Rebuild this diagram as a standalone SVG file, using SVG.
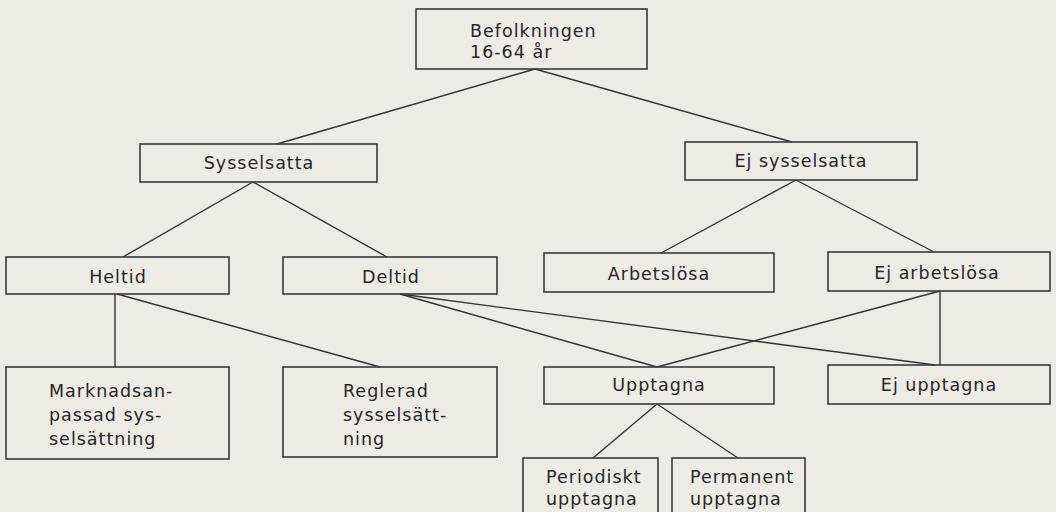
<svg xmlns="http://www.w3.org/2000/svg" width="1056" height="512" viewBox="0 0 1056 512">
<style>
.bg{fill:#ecece5}
.box{fill:none;stroke:#3a3a3a;stroke-width:1.6}
.ln{stroke:#333;stroke-width:1.4;fill:none}
text{font-family:"DejaVu Sans","Liberation Sans",sans-serif;font-size:17.5px;fill:#262626;letter-spacing:1px}
.c{text-anchor:middle}
</style>
<rect class="bg" x="0" y="0" width="1056" height="512"/>
<g id="connectors">
<line class="ln" x1="535" y1="69" x2="277" y2="144"/>
<line class="ln" x1="535" y1="69" x2="792" y2="142"/>
<line class="ln" x1="253" y1="182" x2="123" y2="257"/>
<line class="ln" x1="253" y1="182" x2="387" y2="257"/>
<line class="ln" x1="796" y1="180" x2="661" y2="253"/>
<line class="ln" x1="796" y1="180" x2="934" y2="252"/>
<line class="ln" x1="115" y1="294" x2="115" y2="367"/>
<line class="ln" x1="117" y1="294" x2="380" y2="367"/>
<line class="ln" x1="400" y1="294" x2="657" y2="367"/>
<line class="ln" x1="400" y1="294" x2="935" y2="365"/>
<line class="ln" x1="940" y1="291" x2="657" y2="367"/>
<line class="ln" x1="940" y1="291" x2="940" y2="365"/>
<line class="ln" x1="657" y1="404" x2="593" y2="458"/>
<line class="ln" x1="657" y1="404" x2="738" y2="458"/>
</g>
<g id="befolkningen">
<rect class="box" x="416" y="9" width="231" height="60"/>
<text x="470" y="37">Befolkningen</text>
<text x="470" y="58">16-64 år</text>
</g>
<g id="sysselsatta">
<rect class="box" x="140" y="144" width="237" height="38"/>
<text class="c" x="259" y="169">Sysselsatta</text>
</g>
<g id="ej-sysselsatta">
<rect class="box" x="685" y="142" width="232" height="38"/>
<text class="c" x="801" y="167">Ej sysselsatta</text>
</g>
<g id="heltid">
<rect class="box" x="6" y="257" width="223" height="37"/>
<text class="c" x="118" y="283">Heltid</text>
</g>
<g id="deltid">
<rect class="box" x="283" y="257" width="214" height="37"/>
<text class="c" x="391" y="283">Deltid</text>
</g>
<g id="arbetslosa">
<rect class="box" x="544" y="253" width="230" height="39"/>
<text class="c" x="659" y="280">Arbetslösa</text>
</g>
<g id="ej-arbetslosa">
<rect class="box" x="828" y="252" width="222" height="39"/>
<text class="c" x="937" y="279">Ej arbetslösa</text>
</g>
<g id="marknadsanpassad">
<rect class="box" x="6" y="367" width="223" height="92"/>
<text x="49" y="397">Marknadsan-</text>
<text x="49" y="421">passad sys-</text>
<text x="49" y="445">selsättning</text>
</g>
<g id="reglerad">
<rect class="box" x="283" y="367" width="214" height="90"/>
<text x="343" y="397">Reglerad</text>
<text x="343" y="421">sysselsätt-</text>
<text x="343" y="445">ning</text>
</g>
<g id="upptagna">
<rect class="box" x="544" y="367" width="230" height="37"/>
<text class="c" x="659" y="391">Upptagna</text>
</g>
<g id="ej-upptagna">
<rect class="box" x="828" y="365" width="222" height="39"/>
<text class="c" x="939" y="391">Ej upptagna</text>
</g>
<g id="periodiskt">
<rect class="box" x="523" y="458" width="135" height="60"/>
<text x="546" y="483">Periodiskt</text>
<text x="546" y="505">upptagna</text>
</g>
<g id="permanent">
<rect class="box" x="672" y="458" width="133" height="60"/>
<text x="690" y="483">Permanent</text>
<text x="690" y="505">upptagna</text>
</g>
</svg>
